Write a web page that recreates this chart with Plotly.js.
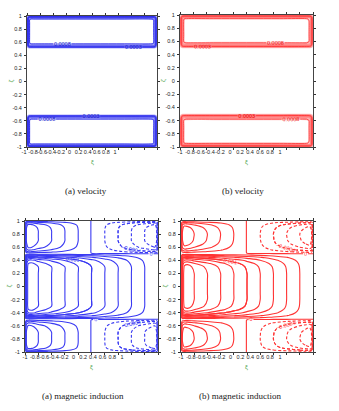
<!DOCTYPE html>
<html><head><meta charset="utf-8">
<script src="https://cdn.plot.ly/plotly-3.0.1.min.js"></script>
<style>html,body{margin:0;padding:0;background:#fff}#c{width:339px;height:411px}</style>
</head><body><div id="c"></div>
<script>
// ---- tick values / labels ----
const tickVals = [-1,-0.8,-0.6,-0.4,-0.2,0,0.2,0.4,0.6,0.8,1];
const tickText = ["-1","-0.8","-0.6","-0.4","-0.2","0","0.2","0.4","0.6","0.8","1"];
const yTickVals = [1,0.8,0.6,0.4,0.2,0,-0.2,-0.4,-0.6,-0.8,-1];
const yTickText = ["1","0.8","0.6","0.4","0.2","0","-0.2","-0.4","-0.6","-0.8","-1"];
const captions = ["(a) velocity","(b) velocity","(a) magnetic induction","(b) magnetic induction"];

// ---- velocity field profiles ----
const velPeak = 0.00085;
const xsV = [-1,-0.99,-0.98,-0.97,-0.96,-0.94,-0.9,-0.5,0,0.5,0.9,0.94,0.96,0.97,0.98,0.99,1];
const velXa = [0,0.25,0.6,0.85,0.95,1,1,1,1,1,1,0.98,0.9,0.75,0.5,0.25,0];
const velXb = [0,0.2,0.45,0.7,0.85,0.97,1,1,1,1,1,0.95,0.85,0.7,0.5,0.25,0];
const ysV = [-1,-0.99,-0.98,-0.97,-0.96,-0.94,-0.9,-0.7,-0.6,-0.58,-0.56,-0.54,-0.53,-0.52,-0.51,-0.5,0,0.5,0.51,0.52,0.53,0.54,0.56,0.58,0.6,0.7,0.9,0.94,0.96,0.97,0.98,0.99,1];
const velYa = [0,0.3,0.6,0.8,0.92,1,1,1,1,0.97,0.88,0.6,0.4,0.2,0.05,0,0,0,0.05,0.2,0.4,0.6,0.88,0.97,1,1,1,1,0.92,0.8,0.6,0.3,0];
const velYb = [0,0.25,0.5,0.7,0.85,0.97,1,1,1,0.95,0.82,0.6,0.45,0.3,0.12,0,0,0,0.12,0.3,0.45,0.6,0.82,0.95,1,1,1,0.97,0.85,0.7,0.5,0.25,0];

// ---- magnetic induction profiles ----
const xsM = [-1,-0.98,-0.95,-0.9,-0.8,-0.6,-0.4,-0.2,0,0.2,0.4,0.6,0.8,0.9,0.95,0.98,1];
const magMid = [0.0003,0.0016,0.0019,0.00195,0.0018,0.0016,0.0014,0.0012,0.001,0.0008,0.0006,0.0004,0.0002,0.00012,0.00007,0.00004,0.00002];
const magOut = [0.0001,0.0008,0.00098,0.00095,0.0008,0.0006,0.0004,0.0002,-0.00001,-0.0002,-0.0004,-0.0006,-0.0008,-0.0009,-0.00095,-0.0008,-0.0001];
const ysM = [-1,-0.99,-0.97,-0.94,-0.9,-0.85,-0.8,-0.75,-0.7,-0.65,-0.6,-0.56,-0.53,-0.51,-0.5,-0.49,-0.47,-0.44,-0.4,-0.35,-0.3,-0.2,-0.1,0,0.1,0.2,0.3,0.35,0.4,0.44,0.47,0.49,0.5,0.51,0.53,0.56,0.6,0.65,0.7,0.75,0.8,0.85,0.9,0.94,0.97,0.99,1];
const magYa = [0.02,0.3,0.65,0.88,0.97,1,1,1,1,0.95,0.85,0.65,0.4,0.15,0.02,0.15,0.4,0.65,0.85,0.95,1,1,1,1,1,1,1,0.95,0.85,0.65,0.4,0.15,0.02,0.15,0.4,0.65,0.85,0.95,1,1,1,1,0.97,0.88,0.65,0.3,0.02];
const magYb = [0.02,0.2,0.5,0.75,0.9,0.97,1,0.99,0.97,0.9,0.75,0.55,0.3,0.1,0.02,0.1,0.3,0.55,0.75,0.9,0.97,1,1,1,1,1,0.97,0.9,0.75,0.55,0.3,0.1,0.02,0.1,0.3,0.55,0.75,0.9,0.97,0.99,1,0.97,0.9,0.75,0.5,0.2,0.02];

function velGrid(px, qy){ return qy.map(q => px.map(p => velPeak*p*q)); }
function magGrid(qy){ return ysM.map((y,j)=> (Math.abs(y)>0.5 ? magOut : magMid).map(f => f*qy[j])); }

const zVa = velGrid(velXa, velYa), zVb = velGrid(velXb, velYb);
const zMa = magGrid(magYa), zMb = magGrid(magYb);

const id = k => (k===1 ? '' : String(k));
function ct(x,y,z,ax,start,end,size,color,width,dash,labels,lcol){
  return {type:'contour', x:x, y:y, z:z, xaxis:'x'+id(ax), yaxis:'y'+id(ax), showscale:false, hoverinfo:'skip',
    contours:{coloring:'none', start:start, end:end, size:size, showlabels:!!labels,
      labelfont:{size:5.5, color:lcol||color, family:'Arial'}, labelformat:'.4~f'},
    line:{color:color, width:width, dash:dash||'solid', smoothing:1}};
}
const MB = '#3a3af2', MR = '#ff3333', DASH = '3px,2px';
const traces = [
  ct(xsV, ysV, zVa, 1, 0.0001, 0.0008, 0.0001, 'rgba(40,40,240,0.38)', 1.4),
  ct(xsV, ysV, zVa, 1, 0.0003, 0.0008, 0.0005, '#2020e8', 0.8, 'solid', true, '#1a1acc'),
  ct(xsV, ysV, zVb, 2, 0.0001, 0.0008, 0.0001, 'rgba(255,60,60,0.3)', 1.9),
  ct(xsV, ysV, zVb, 2, 0.0003, 0.0008, 0.0005, '#ff3030', 0.8, 'solid', true, '#ee0000'),
  ct(xsM, ysM, zMa, 3, 0.0002, 0.002, 0.0002, MB, 1.1),
  ct(xsM, ysM, zMa, 3, -0.001, -0.0002, 0.0002, MB, 1.1, DASH),
  ct(xsM, ysM, zMa, 3, 0.001, 0.001, 0.001, MB, 1.1, 'solid', true),
  ct(xsM, ysM, zMa, 3, 0, 0, 0.001, MB, 1.1, 'solid', true),
  ct(xsM, ysM, zMa, 3, -0.0004, -0.0004, 0.001, MB, 1.1, DASH, true),
  ct(xsM, ysM, zMb, 4, 0.0002, 0.002, 0.0002, MR, 1.1),
  ct(xsM, ysM, zMb, 4, -0.001, -0.0002, 0.0002, MR, 1.1, DASH),
  ct(xsM, ysM, zMb, 4, 0.001, 0.001, 0.001, MR, 1.1, 'solid', true),
  ct(xsM, ysM, zMb, 4, 0, 0, 0.001, MR, 1.1, 'solid', true),
  ct(xsM, ysM, zMb, 4, -0.0004, -0.0004, 0.001, MR, 1.1, DASH, true)
];
for (let k=5;k<=8;k++) traces.push({type:'scatter', x:[0], y:[0], xaxis:'x'+k, yaxis:'y'+id(k-4), mode:'markers', marker:{opacity:0}, hoverinfo:'skip', showlegend:false});

const W=339, H=411;
const frames = [[27,157,16,147],[180,313,15,147],[25,158,221,352],[181,313,221,352]];
const labelSpans = [[24,115],[180,280],[25,122],[181,280]];
const layout = {width:W, height:H, margin:{l:0,r:0,t:0,b:0}, showlegend:false,
  paper_bgcolor:'#fff', plot_bgcolor:'rgba(0,0,0,0)', annotations:[]};
const tf = {size:5.5, color:'#222', family:'Arial'};
const ann = (x,y,text,font,angle) => ({xref:'paper', yref:'paper', x:x/W, y:1-y/H, xanchor:'center', yanchor:'middle',
  text:text, showarrow:false, font:font, textangle:angle||0});
frames.forEach((f,i)=>{
  const k=i+1;
  layout['xaxis'+id(k)] = {domain:[f[0]/W, f[1]/W], anchor:'y'+id(k), range:[-1,1], tickvals:tickVals, showticklabels:false,
    ticks:'outside', ticklen:2, tickcolor:'#333', mirror:'ticks', showline:true, linecolor:'#444', linewidth:1, showgrid:false, zeroline:false};
  layout['yaxis'+id(k)] = {domain:[1-f[3]/H, 1-f[2]/H], anchor:'x'+id(k), range:[-1,1], tickvals:yTickVals, ticktext:yTickText, tickfont:tf,
    ticks:'outside', ticklen:2, tickcolor:'#333', mirror:'ticks', showline:true, linecolor:'#444', linewidth:1, showgrid:false, zeroline:false, ticklabelstandoff:1};
  const s = labelSpans[i];
  layout['xaxis'+(k+4)] = {domain:[s[0]/W, s[1]/W], anchor:'y'+id(k), range:[-1,1], tickvals:tickVals, ticktext:tickText, tickfont:tf,
    tickangle:0, ticks:'', showline:false, showgrid:false, zeroline:false, ticklabelstandoff:0};
  const cx = (f[0]+f[1])/2, cy = (f[2]+f[3])/2;
  layout.annotations.push(ann(cx, f[3]+15, 'ξ', {size:6, color:'#3a9a3a'}));
  layout.annotations.push(ann(f[0]-17, cy, 'ζ', {size:6, color:'#3a9a3a'}, -90));
});
const capPos = [[86,191],[243,191],[83,396],[240,396]];
capPos.forEach((p,i)=>layout.annotations.push(ann(p[0], p[1], captions[i], {size:9, color:'#222', family:'Liberation Serif'})));
Plotly.newPlot('c', traces, layout, {staticPlot:true, displayModeBar:false});
</script></body></html>
